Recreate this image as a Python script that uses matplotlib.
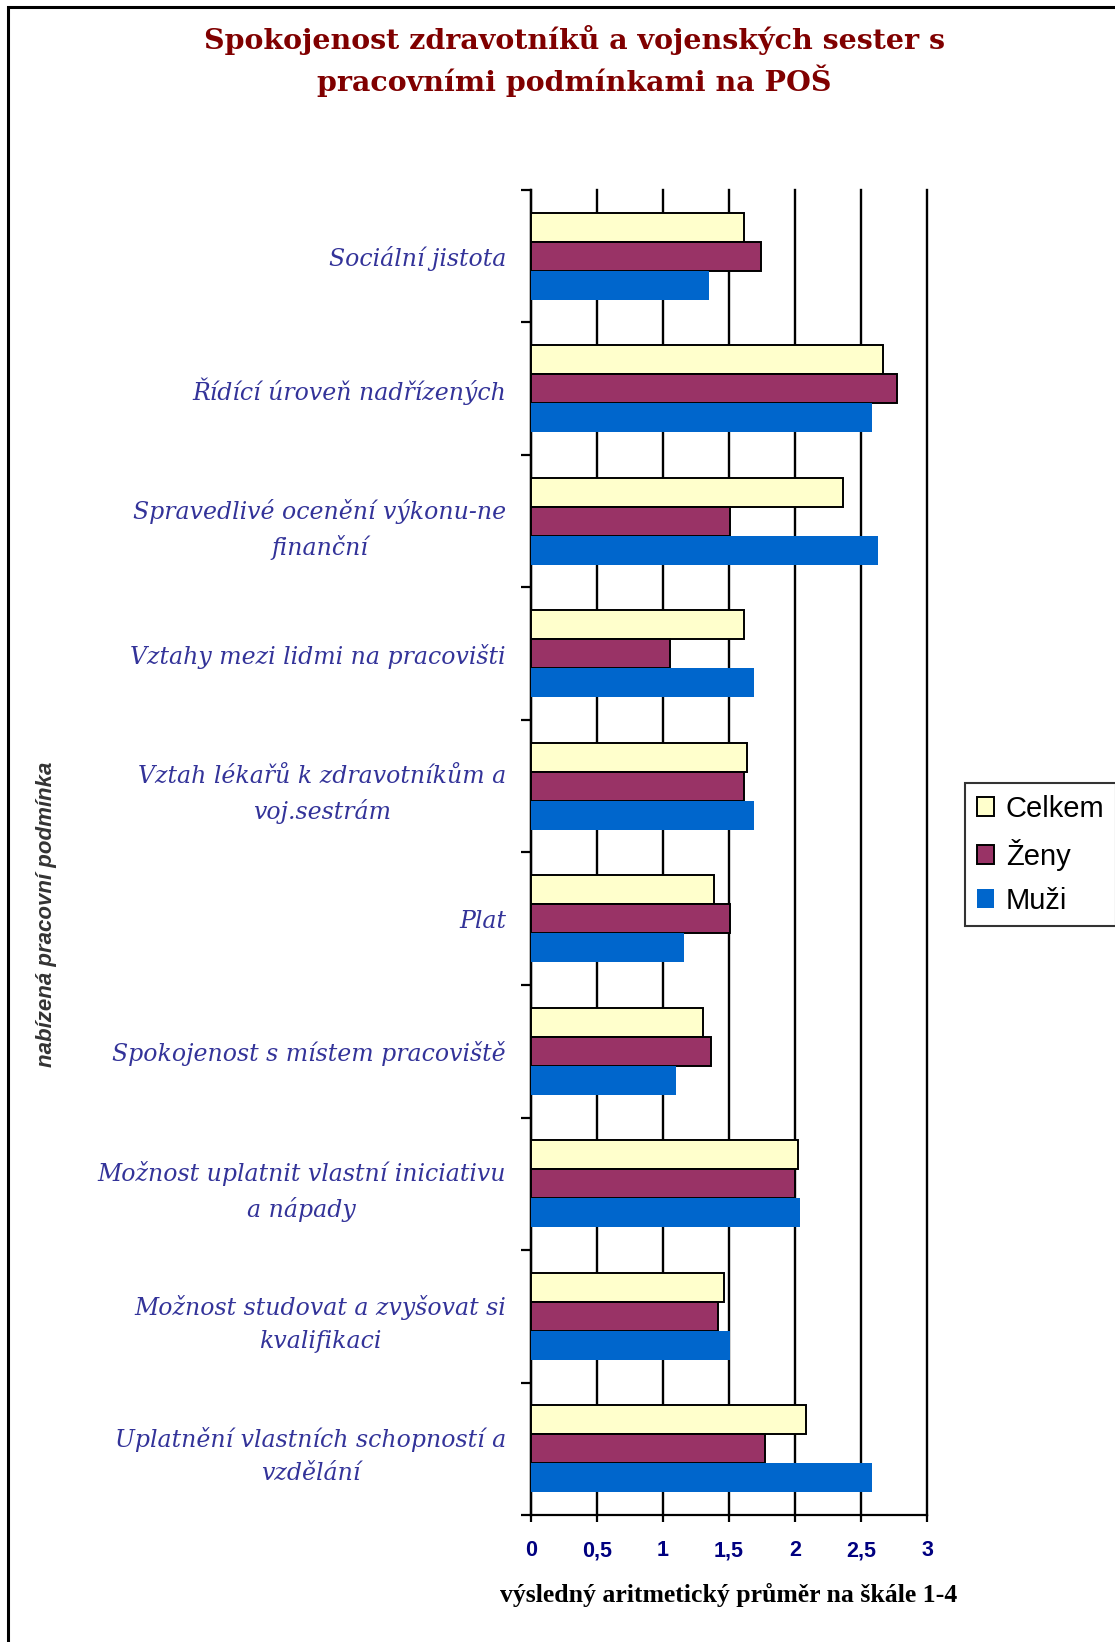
import numpy as np
import matplotlib
matplotlib.use("Agg")
import matplotlib.pyplot as plt
from matplotlib.patches import Rectangle

# ------------------------
# Data (mean score on a 1-4 scale)
# ------------------------
conditions = [
    "Sociální jistota",
    "Řídící úroveň nadřízených",
    "Spravedlivé ocenění výkonu-ne\nfinanční",
    "Vztahy mezi lidmi na pracovišti",
    "Vztah lékařů k zdravotníkům a\nvoj.sestrám",
    "Plat",
    "Spokojenost s místem pracoviště",
    "Možnost uplatnit vlastní iniciativu\na nápady",
    "Možnost studovat a zvyšovat si\nkvalifikaci",
    "Uplatnění vlastních schopností a\nvzdělání",
]
celkem = [1.61, 2.67, 2.36, 1.61, 1.64, 1.39, 1.30, 2.02, 1.46, 2.08]
zeny = [1.74, 2.77, 1.51, 1.05, 1.61, 1.51, 1.36, 2.00, 1.42, 1.77]
muzi = [1.35, 2.58, 2.63, 1.69, 1.69, 1.16, 1.10, 2.04, 1.51, 2.58]

xticks = [0, 0.5, 1, 1.5, 2, 2.5, 3]
xtick_labels = ["0", "0,5", "1", "1,5", "2", "2,5", "3"]

# ------------------------
# Figure
# ------------------------
W, H = 1115, 1642
fig = plt.figure(figsize=(W / 100, H / 100), dpi=100)
fig.patch.set_facecolor("white")

ax = fig.add_axes([531 / W, 1 - 1515 / H, 396 / W, 1325 / H])

pos = np.arange(len(conditions))
h = 0.22

ax.barh(pos - h, celkem, height=h, color="#FFFFCC", edgecolor="black", linewidth=1.4, label="Celkem", zorder=3)
ax.barh(pos, zeny, height=h, color="#993366", edgecolor="black", linewidth=1.4, label="Ženy", zorder=3)
ax.barh(pos + h, muzi, height=h, color="#0066CC", linewidth=0, label="Muži", zorder=3)

ax.set_xlim(0, 3)
ax.set_ylim(len(conditions) - 0.5, -0.5)

# vertical grid
ax.set_xticks(xticks)
ax.set_xticklabels(xtick_labels)
ax.grid(axis="x", color="black", linewidth=1.7, zorder=0)
ax.set_axisbelow(True)
for gl in ax.get_xgridlines():
    gl.set_clip_on(False)

# category ticks sit between groups, labels at group centres
ax.set_yticks(np.arange(len(conditions) + 1) - 0.5)
ax.set_yticklabels([])
ax.set_yticks(pos, minor=True)
ax.set_yticklabels(conditions, minor=True, family="DejaVu Serif", style="italic",
                   fontsize=17, color="#333399", multialignment="center", linespacing=1.55)
ax.tick_params(axis="y", which="minor", length=0, pad=18)
ax.tick_params(axis="y", which="major", direction="out", length=7, width=1.6)
ax.tick_params(axis="x", direction="out", length=5, width=1.6, pad=13)
for lab in ax.get_xticklabels():
    lab.set_family("Liberation Sans")
    lab.set_fontweight("bold")
    lab.set_fontsize(15.5)
    lab.set_color("#000080")

for s in ["top", "right"]:
    ax.spines[s].set_visible(False)
for s in ["left", "bottom"]:
    ax.spines[s].set_linewidth(1.6)

ax.set_xlabel("výsledný aritmetický průměr na škále 1-4", family="Liberation Serif",
              fontweight="bold", fontsize=18.5, color="black", labelpad=16)

fig.text(47 / W, 1 - 914 / H, "nabízená pracovní podmínka", rotation=90, ha="center", va="center",
         family="Liberation Sans", style="italic", fontweight="bold", fontsize=16, color="#333333")

fig.text(574 / W, 1 - 40 / H, "Spokojenost zdravotníků a vojenských sester s", ha="center", va="center",
         family="DejaVu Serif", fontweight="bold", fontsize=20.5, color="#800000")
fig.text(574 / W, 1 - 81 / H, "pracovními podmínkami na POŠ", ha="center", va="center",
         family="DejaVu Serif", fontweight="bold", fontsize=20.5, color="#800000")

leg = ax.legend(loc="upper left", bbox_to_anchor=(965 / W, 1 - 783 / H), bbox_transform=fig.transFigure,
                borderaxespad=0, fancybox=False, frameon=True, edgecolor="black",
                prop={"family": "Liberation Sans", "size": 21}, handlelength=0.6, handleheight=0.6,
                handletextpad=0.4, labelspacing=0.55, borderpad=0.4)
leg.get_frame().set_linewidth(1.5)

# outer frame around the whole chart
fig.patches.append(Rectangle((8 / W, -0.05), 1.2, 1 - 7 / H + 0.05, transform=fig.transFigure,
                             fill=False, edgecolor="black", linewidth=2.2))

fig.savefig("out.png", dpi=100, facecolor="white")
